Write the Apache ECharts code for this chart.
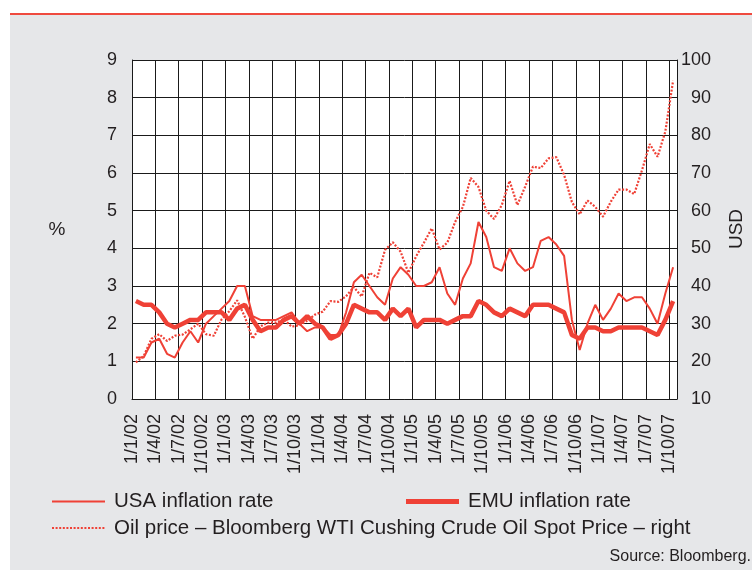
<!DOCTYPE html>
<html>
<head>
<meta charset="utf-8">
<script src="https://cdn.jsdelivr.net/npm/echarts@6/dist/echarts.min.js"></script>
<style>
  html, body { margin: 0; padding: 0; background: #fff; }
  #chart { width: 752px; height: 570px; }
</style>
</head>
<body>
<div id="chart"></div>
<script>
// monthly values, Jan 2002 - Oct 2007
var usaInflation = [
  1.1, 1.1, 1.5, 1.6, 1.2, 1.1, 1.5, 1.8, 1.5, 2.0, 2.2, 2.4,
  2.6, 3.0, 3.0, 2.2, 2.1, 2.1, 2.1, 2.2, 2.3, 2.0, 1.8, 1.9,
  1.9, 1.7, 1.7, 2.3, 3.1, 3.3, 3.0, 2.7, 2.5, 3.2, 3.5, 3.3,
  3.0, 3.0, 3.1, 3.5, 2.8, 2.5, 3.2, 3.6, 4.7, 4.3, 3.5, 3.4,
  4.0, 3.6, 3.4, 3.5, 4.2, 4.3, 4.1, 3.8, 2.1, 1.3, 2.0, 2.5,
  2.1, 2.4, 2.8, 2.6, 2.7, 2.7, 2.4, 2.0, 2.8, 3.5
];
var emuInflation = [
  2.6, 2.5, 2.5, 2.3, 2.0, 1.9, 2.0, 2.1, 2.1, 2.3, 2.3, 2.3,
  2.1, 2.4, 2.5, 2.1, 1.8, 1.9, 1.9, 2.1, 2.2, 2.0, 2.2, 2.0,
  1.9, 1.6, 1.7, 2.0, 2.5, 2.4, 2.3, 2.3, 2.1, 2.4, 2.2, 2.4,
  1.9, 2.1, 2.1, 2.1, 2.0, 2.1, 2.2, 2.2, 2.6, 2.5, 2.3, 2.2,
  2.4, 2.3, 2.2, 2.5, 2.5, 2.5, 2.4, 2.3, 1.7, 1.6, 1.9, 1.9,
  1.8, 1.8, 1.9, 1.9, 1.9, 1.9, 1.8, 1.7, 2.1, 2.6
];
var oilPrice = [
  19.7, 21.4, 26.0, 27.2, 25.4, 26.8, 27.1, 28.5, 30.0, 27.2, 26.8, 31.1,
  33.3, 36.2, 31.8, 26.0, 29.3, 30.3, 30.3, 31.2, 29.2, 29.6, 30.8, 32.4,
  33.2, 36.0, 35.8, 37.3, 39.7, 37.2, 43.5, 42.3, 49.6, 51.6, 49.1, 43.5,
  47.9, 51.5, 55.3, 49.7, 51.5, 57.0, 61.0, 68.7, 66.3, 60.0, 57.8, 61.5,
  67.9, 61.5, 66.4, 71.7, 71.3, 73.9, 74.2, 69.5, 62.3, 59.0, 62.7, 61.0,
  58.4, 62.4, 65.6, 65.6, 64.4, 70.7, 77.7, 74.3, 81.0, 94.5
];
// one label every 3 months
var tickLabels = [
  '1/1/02', '1/4/02', '1/7/02', '1/10/02',
  '1/1/03', '1/4/03', '1/7/03', '1/10/03',
  '1/1/04', '1/4/04', '1/7/04', '1/10/04',
  '1/1/05', '1/4/05', '1/7/05', '1/10/05',
  '1/1/06', '1/4/06', '1/7/06', '1/10/06',
  '1/1/07', '1/4/07', '1/7/07', '1/10/07'
];
var monthCount = 70;

var red = '#ef4136';
var ink = '#231f20';
var gridInk = '#1a1a1a';
var font = '"Liberation Sans", Arial, Helvetica, sans-serif';

// each value sits in the middle of its month
function toPoints(arr) {
  return arr.map(function (v, i) { return [i + 0.5, v]; });
}

var chart = echarts.init(document.getElementById('chart'));

var option = {
  animation: false,
  backgroundColor: '#fff',
  textStyle: { fontFamily: font, color: ink },
  grid: {
    left: 132, top: 60, right: 75, bottom: 171,
    show: true, backgroundColor: '#fff', borderWidth: 0
  },
  graphic: [
    { type: 'rect', z: -100, silent: true,
      shape: { x: 10, y: 15, width: 742, height: 555 },
      style: { fill: '#e6e7e9' } },
    { type: 'rect', z: -100, silent: true,
      shape: { x: 10, y: 13, width: 742, height: 2 },
      style: { fill: '#ef4a3f' } },
    { type: 'text', x: 57, y: 230, style: { text: '%', font: '19px ' + font, fill: ink, align: 'center', verticalAlign: 'middle' } },
    { type: 'text', x: 737, y: 229, rotation: Math.PI / 2,
      style: { text: 'USD', font: '19px ' + font, fill: ink, align: 'center', verticalAlign: 'middle' } },
    // legend
    { type: 'line', shape: { x1: 52, y1: 501.5, x2: 105, y2: 501.5 }, style: { stroke: red, lineWidth: 2 } },
    { type: 'text', x: 114, y: 501, style: { text: 'USA inflation rate', font: '20.5px ' + font, fill: ink, verticalAlign: 'middle' } },
    { type: 'line', shape: { x1: 406, y1: 501.5, x2: 459, y2: 501.5 }, style: { stroke: red, lineWidth: 5 } },
    { type: 'text', x: 468, y: 501, style: { text: 'EMU inflation rate', font: '20.5px ' + font, fill: ink, verticalAlign: 'middle' } },
    { type: 'line', shape: { x1: 52, y1: 528, x2: 105, y2: 528 }, style: { stroke: red, lineWidth: 2, lineDash: [2, 1.6] } },
    { type: 'text', x: 114, y: 528, style: { text: 'Oil price \u2013 Bloomberg WTI Cushing Crude Oil Spot Price \u2013 right', font: '20.5px ' + font, fill: ink, verticalAlign: 'middle' } },
    { type: 'text', x: 751, y: 557, style: { text: 'Source: Bloomberg.', font: '16px ' + font, fill: ink, align: 'right', verticalAlign: 'middle' } }
  ],
  xAxis: {
    type: 'value',
    min: 0,
    max: monthCount,
    interval: 3,
    z: 2,
    axisLine: { show: true, lineStyle: { color: gridInk, width: 1 } },
    axisTick: { show: false },
    splitLine: { show: true, lineStyle: { color: gridInk, width: 1 } },
    axisLabel: {
      rotate: 90,
      margin: 15,
      fontSize: 18,
      color: ink,
      fontFamily: font,
      showMaxLabel: false,
      formatter: function (v) {
        if (v % 3 !== 0) return '';
        return tickLabels[v / 3] || '';
      }
    }
  },
  yAxis: [
    {
      type: 'value', min: 0, max: 9, interval: 1, z: 2,
      axisLine: { show: true, lineStyle: { color: gridInk, width: 1 } },
      axisTick: { show: false },
      splitLine: { show: true, lineStyle: { color: gridInk, width: 1 } },
      axisLabel: { margin: 15, fontSize: 18, color: ink, fontFamily: font }
    },
    {
      type: 'value', min: 10, max: 100, interval: 10, z: 2,
      position: 'right',
      axisLine: { show: true, lineStyle: { color: gridInk, width: 1 } },
      axisTick: { show: false },
      splitLine: { show: false },
      axisLabel: { margin: 34, align: 'right', fontSize: 18, color: ink, fontFamily: font }
    }
  ],
  series: [
    {
      name: 'Oil price', type: 'line', yAxisIndex: 1, z: 3,
      data: toPoints(oilPrice), symbol: 'none',
      lineStyle: { color: red, width: 2.2, type: [2, 1.6] }
    },
    {
      name: 'USA inflation rate', type: 'line', yAxisIndex: 0, z: 3,
      data: toPoints(usaInflation), symbol: 'none',
      lineStyle: { color: red, width: 2 }
    },
    {
      name: 'EMU inflation rate', type: 'line', yAxisIndex: 0, z: 3,
      data: toPoints(emuInflation), symbol: 'none',
      lineStyle: { color: red, width: 4.5 }
    }
  ]
};

chart.setOption(option);
</script>
</body>
</html>
